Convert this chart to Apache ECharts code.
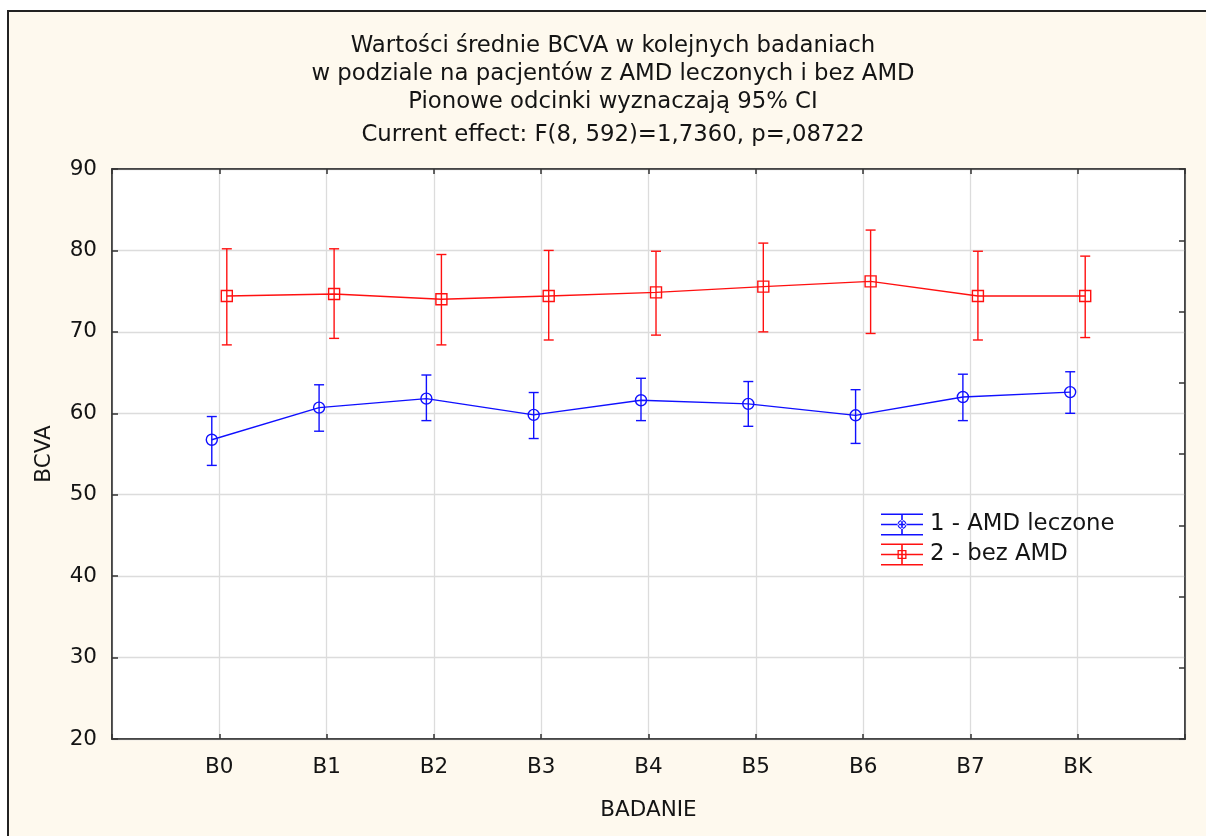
<!DOCTYPE html>
<html>
<head>
<meta charset="utf-8">
<script src="https://cdn.jsdelivr.net/npm/echarts@6/dist/echarts.min.js"></script>
<style>
  html, body { margin: 0; padding: 0; background: #fff; }
  #wrap { position: relative; width: 1206px; height: 836px; overflow: hidden; }
  #frame { position: absolute; left: 7px; top: 10px; width: 1300px; height: 900px;
           background: #fef9ee; border-left: 2px solid #222; border-top: 2px solid #222; }
  #chart { position: absolute; left: 0; top: 0; width: 1206px; height: 836px; }
</style>
</head>
<body>
<div id="wrap"><div id="frame"></div><div id="chart"></div></div>
<script>
// mean BCVA per visit, with 95% CI ends
var visits = ["B0", "B1", "B2", "B3", "B4", "B5", "B6", "B7", "BK"];
var amdMean = [56.75, 60.7, 61.8, 59.8, 61.6, 61.15, 59.75, 62.0, 62.6];
var amdLow  = [53.6, 57.8, 59.1, 56.9, 59.1, 58.4, 56.3, 59.1, 60.0];
var amdHigh = [59.6, 63.5, 64.7, 62.55, 64.3, 63.9, 62.9, 64.8, 65.1];
var noMean  = [74.4, 74.65, 74.0, 74.4, 74.85, 75.55, 76.2, 74.4, 74.4];
var noLow   = [68.4, 69.2, 68.4, 69.0, 69.6, 70.0, 69.8, 69.0, 69.3];
var noHigh  = [80.2, 80.2, 79.5, 80.0, 79.9, 80.9, 82.5, 79.9, 79.3];
var yTicks  = [20, 30, 40, 50, 60, 70, 80, 90];
var seriesNames = ["1 - AMD leczone", "2 - bez AMD"];
var titleLines = [
  "Wartości średnie BCVA w kolejnych badaniach",
  "w podziale na pacjentów z AMD leczonych i bez AMD",
  "Pionowe odcinki wyznaczają 95% CI",
  "Current effect: F(8, 592)=1,7360, p=,08722"
];

var BLUE = "#1010ff", RED = "#ff1010", FONT = "DejaVu Sans, sans-serif";
var FS = 21.5, FS_BIG = 22.8, INK = "#141414";
var SHIFT = 0.07; // groups are drawn slightly apart around each visit

function pts(means, dx) {
  return means.map(function (v, i) { return [i + 1 + dx, v]; });
}
function bars(lo, hi, dx) {
  return lo.map(function (v, i) { return [i + 1 + dx, v, hi[i]]; });
}

function errorBars(color) {
  return function (params, api) {
    var x = api.value(0);
    var a = api.coord([x, api.value(1)]);
    var b = api.coord([x, api.value(2)]);
    var w = 5;
    var st = { stroke: color, lineWidth: 1.4 };
    return {
      type: "group",
      children: [
        { type: "line", shape: { x1: a[0], y1: a[1], x2: b[0], y2: b[1] }, style: st },
        { type: "line", shape: { x1: a[0] - w, y1: a[1], x2: a[0] + w, y2: a[1] }, style: st },
        { type: "line", shape: { x1: b[0] - w, y1: b[1], x2: b[0] + w, y2: b[1] }, style: st }
      ]
    };
  };
}

var barLines = "M0 0H42V1.6H0Z M0 10.2H42V11.8H0Z M0 20.4H42V22H0Z M20.2 0H21.8V22H20.2Z ";
var iconCircle = "path://" + barLines +
  "M25.5 11A4.5 4.5 0 1 0 16.5 11A4.5 4.5 0 1 0 25.5 11Z M24.2 11A3.2 3.2 0 1 1 17.8 11A3.2 3.2 0 1 1 24.2 11Z";
var iconSquare = "path://" + barLines +
  "M16.5 6.5H25.5V15.5H16.5Z M17.8 7.8V14.2H24.2V7.8Z";

var chart = echarts.init(document.getElementById("chart"));
var titleTops = [30, 58, 86, 119];
var txt = { fontFamily: FONT, fontSize: FS, color: INK };
var axisLineStyle = { color: "#333", width: 1.5 };

chart.setOption({
  backgroundColor: "transparent",
  animation: false,
  textStyle: { fontFamily: FONT },
  title: titleLines.map(function (t, i) {
    return { text: t, left: 608, textAlign: "center", top: titleTops[i],
             textStyle: { fontFamily: FONT, fontSize: FS_BIG, fontWeight: "normal", color: INK } };
  }),
  grid: { left: 112, right: 21, top: 169, bottom: 97, show: true,
          backgroundColor: "#fff", borderColor: "#333", borderWidth: 1.5 },
  legend: {
    left: 876, top: 508, orient: "vertical", itemWidth: 42, itemHeight: 22, itemGap: 7,
    textStyle: { fontFamily: FONT, fontSize: FS_BIG, color: INK, padding: [0, 0, 0, 2] },
    data: [
      { name: seriesNames[0], icon: iconCircle, itemStyle: { color: BLUE } },
      { name: seriesNames[1], icon: iconSquare, itemStyle: { color: RED } }
    ]
  },
  xAxis: [
    {
      type: "value", min: 0, max: 10, interval: 1, position: "bottom",
      name: "BADANIE", nameLocation: "middle", nameGap: 60, nameTextStyle: txt,
      axisLine: { onZero: false, lineStyle: axisLineStyle },
      axisTick: { inside: true, length: 5, lineStyle: axisLineStyle },
      axisLabel: { margin: 17, fontFamily: FONT, fontSize: FS, color: INK,
                   formatter: function (v) { return visits[v - 1] || ""; } },
      splitLine: { lineStyle: { color: "#dcdcdc", width: 1.3 } }
    },
    {
      type: "value", min: 0, max: 10, interval: 1, position: "top",
      axisLine: { onZero: false, lineStyle: axisLineStyle },
      axisTick: { inside: true, length: 5, lineStyle: axisLineStyle },
      axisLabel: { show: false }, splitLine: { show: false }
    }
  ],
  yAxis: [
    {
      type: "value", min: yTicks[0], max: yTicks[yTicks.length - 1], interval: 10, position: "left",
      name: "BCVA", nameLocation: "middle", nameGap: 57, nameTextStyle: txt,
      axisLine: { show: true, onZero: false, lineStyle: axisLineStyle },
      axisTick: { inside: true, length: 6, lineStyle: axisLineStyle },
      axisLabel: { margin: 15, fontFamily: FONT, fontSize: FS, color: INK },
      splitLine: { lineStyle: { color: "#dcdcdc", width: 1.3 } }
    },
    {
      type: "value", min: 0, max: 8, interval: 1, position: "right",
      axisLine: { show: true, onZero: false, lineStyle: axisLineStyle },
      axisTick: { inside: true, length: 6, lineStyle: axisLineStyle },
      axisLabel: { show: false }, splitLine: { show: false }
    }
  ],
  series: [
    {
      name: seriesNames[0], type: "custom", renderItem: errorBars(BLUE),
      data: bars(amdLow, amdHigh, -SHIFT), z: 3, silent: true
    },
    {
      name: seriesNames[1], type: "custom", renderItem: errorBars(RED),
      data: bars(noLow, noHigh, SHIFT), z: 3, silent: true
    },
    {
      name: seriesNames[0], type: "line", data: pts(amdMean, -SHIFT), z: 4,
      symbol: "circle", symbolSize: 11,
      itemStyle: { color: "rgba(0,0,0,0)", borderColor: BLUE, borderWidth: 1.4 },
      lineStyle: { color: BLUE, width: 1.4 }
    },
    {
      name: seriesNames[1], type: "line", data: pts(noMean, SHIFT), z: 4,
      symbol: "rect", symbolSize: 11,
      itemStyle: { color: "rgba(0,0,0,0)", borderColor: RED, borderWidth: 1.4 },
      lineStyle: { color: RED, width: 1.4 }
    }
  ]
});
</script>
</body>
</html>
